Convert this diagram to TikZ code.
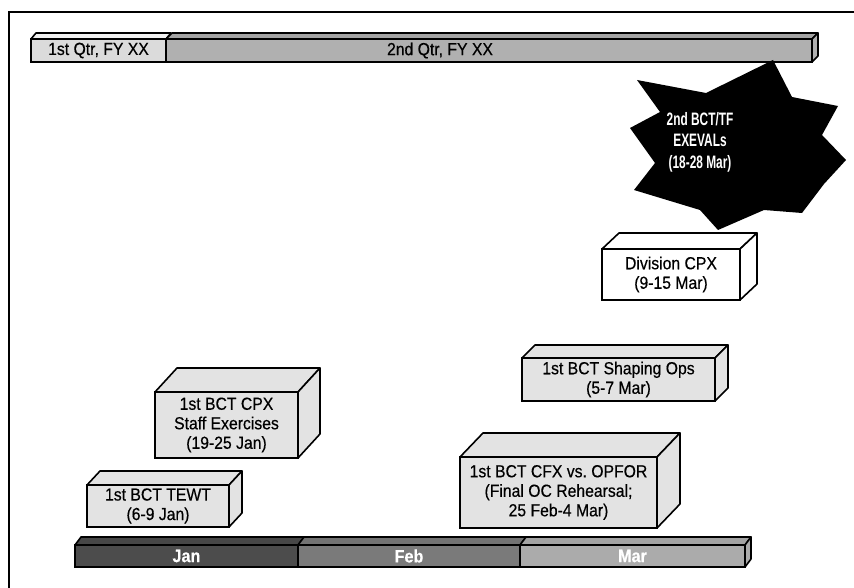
\documentclass[tikz,border=0pt]{standalone}
\usepackage{fontspec}
\setmainfont{Liberation Sans}[FakeStretch=0.9, FakeBold=0.4]
\newfontfamily\narrowfont[FakeStretch=0.66]{Liberation Sans}
\usetikzlibrary{calc}

% top and side faces of a 3D block, drawn from the front node
\newcommand{\topface}[4]{%
  \draw[face, fill=#4] (#1.north west) -- ++(#2,-#3) -- ($(#1.north east)+(#2,-#3)$) -- (#1.north east) -- cycle;}
\newcommand{\sideface}[4]{%
  \draw[face, fill=#4] (#1.north east) -- ++(#2,-#3) -- ($(#1.south east)+(#2,-#3)$) -- (#1.south east) -- cycle;}

\begin{document}
\begin{tikzpicture}[
  x=1pt, y=-1pt,
  font=\fontsize{17.5}{19.5}\selectfont,
  every node/.style={align=center, outer sep=0pt, inner sep=0pt},
  event/.style={draw, fill=black!11, line width=1.6pt},
  bar/.style={draw, line width=1.6pt, minimum height=23pt},
  month/.style={draw, line width=1.6pt, minimum height=22pt, text=white,
                font=\fontsize{18}{19}\selectfont\bfseries},
  face/.style={draw, line width=1.6pt, line join=round},
  burst/.style={text=white, font=\narrowfont\fontsize{18}{21.5}\selectfont\bfseries},
]
\useasboundingbox (0,0) rectangle (854,588);
\draw[line width=1.8pt] (9,588) -- (9,12) -- (854,12);

%% --- Quarter bar ---
\node[bar, fill=black!14, minimum width=135pt] (q1) at (98.5,50.5) {1st Qtr, FY XX};
\node[bar, fill=black!31, minimum width=646pt] (q2) at (489,50.5) {};
\node (q2lbl) at (440,50.5) {2nd Qtr, FY XX};
\topface{q1}{5}{6}{black!5}
\topface{q2}{6}{6}{black!36}
\sideface{q2}{6}{6}{black!31}

%% --- Starburst ---
\fill[black] (773,60) -- (792,97) -- (838,106) -- (822,135) -- (846,160)
  -- (824,184) -- (802,213) -- (764,210) -- (718,230) -- (700,210)
  -- (634,190) -- (655,163) -- (630,128) -- (660,112) -- (637,80)
  -- (706,93) -- cycle;
\node[burst] (exeval) at (700,142) {2nd BCT/TF\\EXEVALs\\(18-28 Mar)};

%% --- Events ---
\node[event, fill=white, minimum width=138pt, minimum height=51pt] (divcpx) at (671,274.5)
  {Division CPX\\(9-15 Mar)};
\topface{divcpx}{17}{16}{white}
\sideface{divcpx}{17}{16}{white}

\node[event, minimum width=193pt, minimum height=43pt] (shaping) at (618.5,379.5)
  {1st BCT Shaping Ops\\(5-7 Mar)};
\topface{shaping}{13}{13}{black!11}
\sideface{shaping}{13}{13}{black!11}

\node[event, minimum width=143pt, minimum height=66pt] (bctcpx) at (226.5,425)
  {1st BCT CPX\\Staff Exercises\\(19-25 Jan)};
\topface{bctcpx}{22}{24}{black!11}
\sideface{bctcpx}{22}{24}{black!11}

\node[event, minimum width=197pt, minimum height=71pt] (cfx) at (558.5,492.5)
  {1st BCT CFX vs.\ OPFOR\\(Final OC Rehearsal;\\25 Feb-4 Mar)};
\topface{cfx}{23}{24}{black!11}
\sideface{cfx}{23}{24}{black!11}

\node[event, minimum width=142pt, minimum height=42pt] (tewt) at (158,506)
  {1st BCT TEWT\\(6-9 Jan)};
\topface{tewt}{13}{14}{black!11}
\sideface{tewt}{13}{14}{black!11}

%% --- Month bar ---
\node[month, fill=black!70, minimum width=223pt] (jan) at (186.5,556) {Jan};
\node[month, fill=black!52, minimum width=222pt] (feb) at (409,556) {Feb};
\node[month, fill=black!33, minimum width=225pt] (mar) at (632.5,556) {Mar};
\topface{jan}{6}{8}{black!72}
\topface{feb}{6}{8}{black!55}
\topface{mar}{6}{8}{black!36}
\sideface{mar}{6}{8}{black!33}

\end{tikzpicture}
\end{document}
